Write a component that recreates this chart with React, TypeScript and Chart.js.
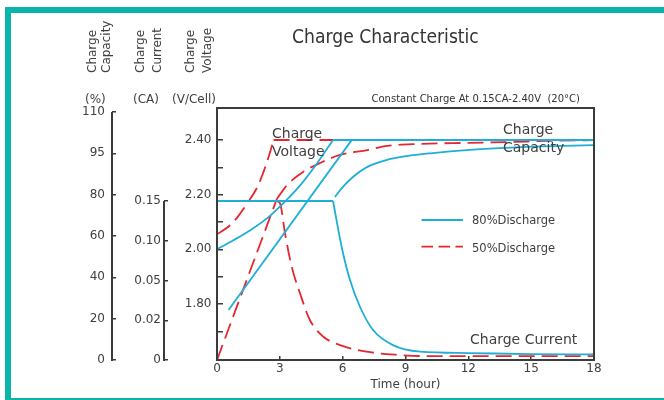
import { useEffect, useRef } from 'react';
import { Chart, LinearScale, registerables } from 'chart.js';

Chart.register(...registerables);

// ---------- axes ----------
const HOUR_TICKS = [0, 3, 6, 9, 12, 15, 18];
const VOLT_TICKS = [1.7, 1.8, 1.9, 2.0, 2.1, 2.2, 2.3, 2.4];
const VOLT_LABELS = ['', '1.80', '', '2.00', '', '2.20', '', '2.40'];
const CAP_STOPS = [0, 20, 40, 60, 80, 95, 110];
const CAP_LABELS = ['0', '20', '40', '60', '80', '95', '110'];
const CUR_STOPS = [0, 0.02, 0.05, 0.1, 0.15];
const CUR_LABELS = ['0', '0.02', '0.05', '0.10', '0.15'];

// ---------- series: [hour, value] ----------
// 80% discharge (cyan)
const volt80Rise: [number, number][] = [[0, 2.0], [0.78, 2.033], [1.59, 2.07], [2.4, 2.114], [3.16, 2.168], [3.97, 2.234], [4.78, 2.315], [5.54, 2.4]];
const volt80Hold: [number, number][] = [[5.54, 2.4], [18, 2.4]];
const cur80Hold: [number, number][] = [[0, 0.15], [5.54, 0.15]];
const cur80Decay: [number, number][] = [[5.54, 0.15], [5.95, 0.0925], [6.35, 0.0505], [6.83, 0.03], [7.45, 0.0151], [8.4, 0.0075], [9.7, 0.0042], [12, 0.0035], [15, 0.003], [18, 0.0028]];
const cap80Line: [number, number][] = [[0.55, 24.2], [6.43, 99.8]];
const cap80Curve: [number, number][] = [[5.63, 78.9], [6.01, 82.8], [6.49, 86.4], [7.16, 90.0], [8.11, 92.6], [9.06, 94.0], [10.3, 95.1], [11.92, 96.2], [13.49, 96.9], [15.06, 97.4], [18, 98.0]];
// 50% discharge (red, dashed)
const volt50Rise: [number, number][] = [[0, 2.055], [0.63, 2.088], [0.97, 2.117], [1.44, 2.168], [1.92, 2.227], [2.3, 2.3], [2.55, 2.36], [2.7, 2.4]];
const volt50Hold: [number, number][] = [[2.7, 2.4], [5.54, 2.4]];
const cur50Decay: [number, number][] = [[2.86, 0.15], [3.01, 0.147], [3.25, 0.109], [3.57, 0.067], [3.97, 0.04], [4.44, 0.02], [5.08, 0.0117], [5.87, 0.0075], [7.14, 0.0042], [8.73, 0.0025], [9.7, 0.002], [12, 0.002], [15, 0.002], [18, 0.002]];
const cap50Line: [number, number][] = [[0, 0], [2.86, 78]];
const cap50Curve: [number, number][] = [[2.86, 78], [3.35, 83.5], [4.11, 88.2], [4.92, 91.5], [5.87, 94.4], [7.18, 96.2], [8.13, 97.7], [9.68, 98.4], [11.92, 98.8], [13.97, 99.1], [15.73, 99.5], [18, 99.8]];

const AXIS = '#3b3b3b';
const TEXT = '#404040';
const CYAN = '#1eaed6';
const RED = '#e6262e';
const TEAL = '#0bb4aa';
const FONT = '"DejaVu Sans", Verdana, sans-serif';

// the capacity and current axes have evenly spaced, unevenly valued ticks
const STOPS_BY_AXIS: Record<string, number[]> = { cap: CAP_STOPS, cur: CUR_STOPS };
function stopPosition(v: number, stops: number[]) {
  if (v <= stops[0]) return 0;
  for (let i = 1; i < stops.length; i++) {
    if (v <= stops[i]) return i - 1 + (v - stops[i - 1]) / (stops[i] - stops[i - 1]);
  }
  const n = stops.length - 1;
  return n + (v - stops[n]) / (stops[n] - stops[n - 1]);
}

class BrokenScale extends LinearScale {
  static id = 'broken';
  parse(raw: any, index: number): any {
    const v = (LinearScale.prototype as any).parse.call(this, raw, index);
    if (v === null || v === undefined || Number.isNaN(v)) return v;
    const stops = STOPS_BY_AXIS[(this as any).id];
    return stops ? stopPosition(v, stops) : v;
  }
}
Chart.register(BrokenScale as any);

const framePlugin = {
  id: 'frame',
  afterDatasetsDraw(chart: any) {
    const { ctx, chartArea: a, scales } = chart;
    ctx.save();
    ctx.strokeStyle = AXIS;
    ctx.lineWidth = 2;
    ctx.strokeRect(a.left, a.top, a.right - a.left, a.bottom - a.top);
    const cap = scales.cap;
    const cur = scales.cur;
    ctx.beginPath();
    ctx.moveTo(cap.right, cap.getPixelForValue(0) + 1);
    ctx.lineTo(cap.right, cap.getPixelForValue(CAP_STOPS.length - 1));
    ctx.moveTo(cur.right, cur.getPixelForValue(0) + 1);
    ctx.lineTo(cur.right, cur.getPixelForValue(CUR_STOPS.length - 1));
    ctx.stroke();
    ctx.restore();
  },
};

function series(data: [number, number][], axis: string, color: string, dashed: boolean, curved: boolean) {
  return {
    data,
    yAxisID: axis,
    borderColor: color,
    borderWidth: 1.8,
    borderDash: dashed ? [16, 7] : [],
    pointRadius: 0,
    fill: false,
    tension: 0,
    cubicInterpolationMode: curved ? 'monotone' : 'default',
  };
}

const tickFont = { family: FONT, size: 12 };

export default function App() {
  const ref = useRef<HTMLCanvasElement | null>(null);

  useEffect(() => {
    if (!ref.current) return;
    const chart = new Chart(ref.current, {
      type: 'line',
      data: {
        datasets: [
          series(volt80Hold, 'volt', CYAN, false, false),
          series(volt80Rise, 'volt', CYAN, false, true),
          series(cur80Hold, 'cur', CYAN, false, false),
          series(cur80Decay, 'cur', CYAN, false, true),
          series(cap80Line, 'cap', CYAN, false, false),
          series(cap80Curve, 'cap', CYAN, false, true),
          series(volt50Rise, 'volt', RED, true, true),
          series(volt50Hold, 'volt', RED, true, false),
          series(cur50Decay, 'cur', RED, true, true),
          series(cap50Line, 'cap', RED, true, false),
          series(cap50Curve, 'cap', RED, true, true),
        ] as any,
      },
      options: {
        responsive: false,
        animation: false,
        events: [],
        layout: { padding: { left: 60, right: 70, top: 108, bottom: 0 } },
        plugins: { legend: { display: false }, tooltip: { enabled: false }, title: { display: false } },
        scales: {
          x: {
            type: 'linear',
            position: 'bottom',
            min: 0,
            max: 18,
            afterBuildTicks: (s: any) => { s.ticks = HOUR_TICKS.map((v) => ({ value: v })); },
            afterFit: (s: any) => { s.height = 40; },
            ticks: { autoSkip: false, maxRotation: 0, padding: 6, color: TEXT, font: tickFont, callback: (v: any) => String(v) },
            grid: { drawOnChartArea: false, drawTicks: true, tickLength: -4, color: AXIS, lineWidth: 1.5 },
            border: { display: false },
            title: { display: true, text: 'Time (hour)', color: TEXT, font: tickFont, padding: { top: 0, bottom: 8 } },
          },
          volt: {
            type: 'linear',
            position: 'left',
            weight: 0,
            min: 1.595,
            max: 2.517,
            afterBuildTicks: (s: any) => { s.ticks = VOLT_TICKS.map((v) => ({ value: v })); },
            afterFit: (s: any) => { s.width = 53; },
            ticks: { autoSkip: false, padding: 11.5, color: TEXT, font: tickFont, callback: (_v: any, i: number) => VOLT_LABELS[i] },
            grid: { drawOnChartArea: false, drawTicks: true, tickLength: -6, color: AXIS, lineWidth: 1.5 },
            border: { display: false },
          },
          cur: {
            type: 'broken',
            position: 'left',
            weight: 1,
            bounds: 'data',
            min: 0,
            max: 0.267,
            afterBuildTicks: (s: any) => { s.ticks = CUR_STOPS.map((_v, i) => ({ value: i })); },
            afterFit: (s: any) => { s.width = 52; },
            ticks: { autoSkip: false, padding: 7, color: TEXT, font: tickFont, callback: (_v: any, i: number) => CUR_LABELS[i] },
            grid: { drawOnChartArea: false, drawTicks: true, tickLength: -4, color: AXIS, lineWidth: 1.5 },
            border: { display: false },
          },
          cap: {
            type: 'broken',
            position: 'left',
            weight: 2,
            bounds: 'data',
            min: 0,
            max: 111.45,
            afterBuildTicks: (s: any) => { s.ticks = CAP_STOPS.map((_v, i) => ({ value: i })); },
            afterFit: (s: any) => { s.width = 52; },
            ticks: { autoSkip: false, padding: 11, color: TEXT, font: tickFont, callback: (_v: any, i: number) => CAP_LABELS[i] },
            grid: { drawOnChartArea: false, drawTicks: true, tickLength: -4, color: AXIS, lineWidth: 1.5 },
            border: { display: false },
          },
        } as any,
      },
      plugins: [framePlugin],
    });
    return () => chart.destroy();
  }, []);

  const t = (extra: any): any => ({ position: 'absolute', fontFamily: FONT, color: TEXT, whiteSpace: 'pre', ...extra });

  return (
    <div style={{ position: 'fixed', left: 0, top: 0, width: 664, height: 400, background: '#fff', overflow: 'hidden' }}>
      <canvas ref={ref} width={664} height={400} style={{ position: 'absolute', left: 0, top: 0, width: 664, height: 400 }} />
      {/* teal frame */}
      <div style={{ position: 'absolute', left: 5, top: 7, width: 659, height: 6, background: TEAL }} />
      <div style={{ position: 'absolute', left: 5, top: 7, width: 6, height: 393, background: TEAL }} />
      <div style={{ position: 'absolute', left: 11, top: 398, width: 653, height: 2, background: TEAL }} />

      <div style={t({ left: 292, top: 24, fontSize: 20, lineHeight: '24px', color: '#333', transform: 'scaleX(0.86)', transformOrigin: '0 0' })}>Charge Characteristic</div>
      <div style={t({ left: 371.5, top: 93, fontSize: 10, lineHeight: '12px', color: '#333' })}>{'Constant Charge At 0.15CA-2.40V  (20°C)'}</div>

      {/* axis titles */}
      <div style={t({ left: 86, top: 73, fontSize: 12, lineHeight: '13.5px', transform: 'rotate(-90deg)', transformOrigin: '0 0' })}>{'Charge\nCapacity'}</div>
      <div style={t({ left: 131.5, top: 73, fontSize: 12, lineHeight: '17px', transform: 'rotate(-90deg)', transformOrigin: '0 0' })}>{'Charge\nCurrent'}</div>
      <div style={t({ left: 181.5, top: 73, fontSize: 12, lineHeight: '17px', transform: 'rotate(-90deg)', transformOrigin: '0 0' })}>{'Charge\nVoltage'}</div>
      <div style={t({ left: 85, top: 92, fontSize: 12, lineHeight: '14px' })}>(%)</div>
      <div style={t({ left: 133, top: 92, fontSize: 12, lineHeight: '14px' })}>(CA)</div>
      <div style={t({ left: 172, top: 92, fontSize: 12, lineHeight: '14px' })}>(V/Cell)</div>

      {/* curve annotations */}
      <div style={t({ left: 272, top: 123.5, fontSize: 14, lineHeight: '18px' })}>{'Charge\nVoltage'}</div>
      <div style={t({ left: 503, top: 119.5, fontSize: 14, lineHeight: '18.5px' })}>{'Charge\nCapacity'}</div>
      <div style={t({ left: 470, top: 329.5, fontSize: 14, lineHeight: '18px' })}>Charge Current</div>

      {/* legend */}
      <svg style={{ position: 'absolute', left: 421, top: 214, width: 44, height: 40 }} width={44} height={40}>
        <line x1={0.5} y1={6} x2={42} y2={6} stroke={CYAN} strokeWidth={1.8} />
        <line x1={0.5} y1={32.7} x2={42} y2={32.7} stroke={RED} strokeWidth={1.8} strokeDasharray="11.5 5.5" />
      </svg>
      <div style={t({ left: 472, top: 212.5, fontSize: 11.5, lineHeight: '14px' })}>80%Discharge</div>
      <div style={t({ left: 472, top: 240.5, fontSize: 11.5, lineHeight: '14px' })}>50%Discharge</div>
    </div>
  );
}
